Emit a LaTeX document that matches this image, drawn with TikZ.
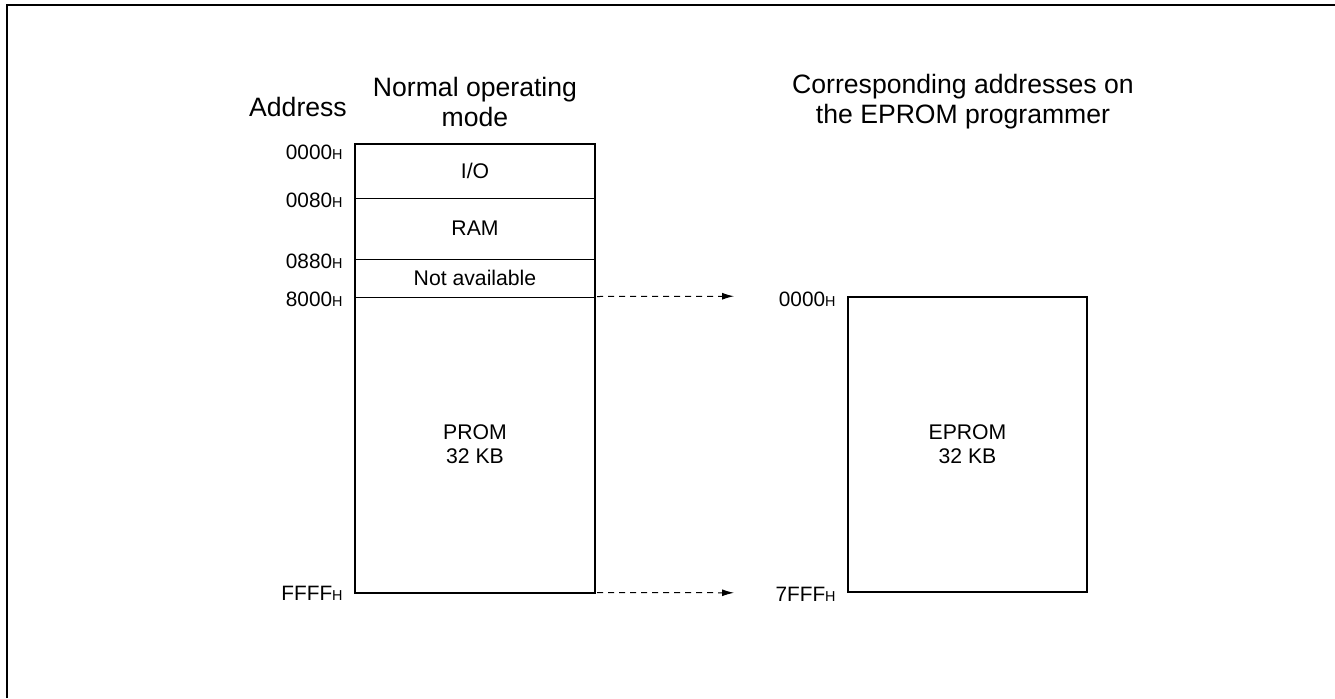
\documentclass[tikz,border=0pt]{standalone}
\usepackage{fontspec}
\setmainfont{Liberation Sans}
\usetikzlibrary{arrows.meta}

\newcommand{\hexaddr}[1]{#1{\fontsize{7.2pt}{8pt}\selectfont H}}

\begin{document}
\begin{tikzpicture}[
    x=0.5pt, y=-0.5pt,
    region/.style={rectangle, draw, line width=0.5pt, minimum width=119.5pt, inner sep=0pt, align=center, font=\fontsize{10.6pt}{12pt}\selectfont},
    addr/.style={anchor=east, inner sep=0pt, font=\fontsize{10.4pt}{12pt}\selectfont},
    title/.style={align=center, inner sep=0pt, font=\fontsize{13.3pt}{15pt}\selectfont},
    maparrow/.style={dashed, line width=0.5pt, dash pattern=on 3pt off 2.5pt, -{Latex[length=6pt, width=3.5pt]}}
]
    \useasboundingbox (0,0) rectangle (1335,698);
    \draw[line width=1pt] (7,698) -- (7,5) -- (1335,5);

    % Normal operating mode
    \node[title] (addrtitle) at (298,107) {Address};
    \node[title] (normtitle) at (475,102) {Normal operating\\mode};
    \node[region, minimum height=27pt] (io) at (475,171) {I/O};
    \node[region, minimum height=30.5pt] (ram) at (475,228.5) {RAM};
    \node[region, minimum height=19pt] (na) at (475,278) {Not available};
    \node[region, minimum height=147.5pt] (prom) at (475,444.5) {PROM\\32 KB};
    \draw[line width=1pt] (io.north west) rectangle (prom.south east);

    \node[addr] (a0000) at (343,152) {\hexaddr{0000}};
    \node[addr] (a0080) at (343,200) {\hexaddr{0080}};
    \node[addr] (a0880) at (343,261) {\hexaddr{0880}};
    \node[addr] (a8000) at (343,299) {\hexaddr{8000}};
    \node[addr] (affff) at (343,593) {\hexaddr{FFFF}};

    % EPROM programmer
    \node[title] (progtitle) at (963,102) {Corresponding addresses on\\the EPROM programmer};
    \node[region, line width=1pt, minimum height=147.5pt] (eprom) at (967.5,444.5) {EPROM\\32 KB};
    \node[addr] (e0000) at (836,299) {\hexaddr{0000}};
    \node[addr] (e7fff) at (836,594) {\hexaddr{7FFF}};

    \draw[maparrow, shorten <=1pt, shorten >=56.5pt] (prom.north east) -- (eprom.north west);
    \draw[maparrow, shorten <=1pt, shorten >=56.5pt] (prom.south east) -- (eprom.south west);
\end{tikzpicture}
\end{document}
